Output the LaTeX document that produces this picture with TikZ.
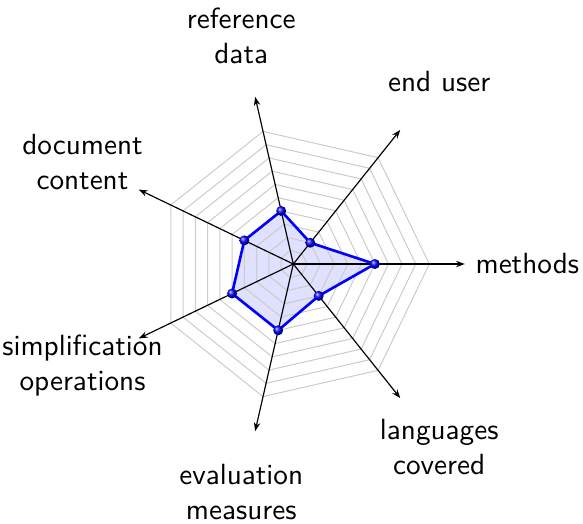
\documentclass[tikz,border=0pt]{standalone}
\usetikzlibrary{arrows.meta}
\begin{document}
\begin{tikzpicture}[x=0.3425pt, y=0.3425pt,
  gridline/.style={draw=gray!40, line width=0.35pt},
  axisline/.style={draw=black, line width=0.4pt, -{Stealth[length=3pt, width=2.2pt]}},
  datapoly/.style={draw=blue, line width=0.9pt, line join=round},
  axislabel/.style={font=\sffamily, align=center, anchor=center, inner sep=0pt}]
\useasboundingbox (0,-523) rectangle (583,0);
\begin{scope}[shift={(293.3,-264)}]
  \coordinate (O) at (0,0);
  \def\u{13.6}
  % data points
  \foreach \v [count=\i from 0] in {6,2,4,4,5,5,3}
    \coordinate (p\i) at ({\i*360/7}:{\v*\u});
  \fill[blue!12] (p0) -- (p1) -- (p2) -- (p3) -- (p4) -- (p5) -- (p6) -- cycle;
  % grid
  \foreach \k in {1,...,10}
    \draw[gridline] (0:{\k*\u}) \foreach \j in {1,...,6} { -- ({\j*360/7}:{\k*\u}) } -- cycle;
  % axes and labels
  \foreach \lab [count=\i from 0] in {methods, end user, reference\\data, document\\content,
      simplification\\operations, evaluation\\measures, languages\\covered} {
    \coordinate (e\i) at ({\i*360/7}:171.5);
    \draw[axisline] (O) -- (e\i);
    \node[axislabel] (l\i) at ({\i*360/7}:234) {\lab};
  }
  % data outline and markers
  \draw[datapoly] (p0) -- (p1) -- (p2) -- (p3) -- (p4) -- (p5) -- (p6) -- cycle;
  \foreach \i in {0,...,6}
    \shade[ball color=blue] (p\i) circle (5);
\end{scope}
\end{tikzpicture}
\end{document}
